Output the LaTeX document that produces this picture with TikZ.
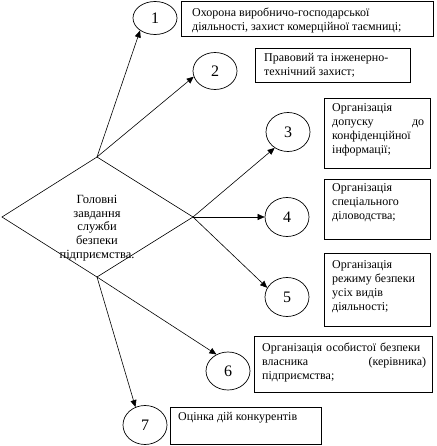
\documentclass[tikz,border=0pt]{standalone}
\usepackage{fontspec}
\setmainfont{Liberation Serif}
\usetikzlibrary{arrows.meta,shapes.geometric,calc}
\begin{document}
\begin{tikzpicture}[x=1pt,y=-1pt,
 num/.style={draw,ellipse,line width=0.7pt,minimum width=44,minimum height=37,inner sep=0pt,font=\fontsize{16}{16}\selectfont},
 box/.style={draw,line width=0.7pt,anchor=north west,inner sep=0pt},
 txt/.style={anchor=north west,inner sep=0pt,font=\fontsize{12}{14}\selectfont,align=left},
 arr/.style={line width=0.6pt,-{Triangle[length=7pt,width=6pt]}}]
\useasboundingbox (0,0) rectangle (436,446);
% diamond
\coordinate (dl) at (2,217);
\coordinate (dt) at (97,157);
\coordinate (dr) at (193,217);
\coordinate (db) at (97,277);
\draw[line width=0.6pt] (dl) -- (dt) -- (dr) -- (db) -- cycle;
\node[font=\fontsize{12.5}{13.8}\selectfont,align=center,inner sep=0pt] (dtext) at (97,228) {Головні\\завдання\\служби\\безпеки\\підприємства.};
% ellipses
\node[num,minimum height=33] (e1) at (155,18) {1};
\node[num] (e2) at (215,71) {2};
\node[num,minimum height=39] (e3) at (288,132) {3};
\node[num,minimum height=39] (e4) at (287,217) {4};
\node[num,minimum height=39] (e5) at (287,297) {5};
\node[num,minimum height=38] (e6) at (228,371) {6};
\node[num,minimum height=39] (e7) at (145,425) {7};
% boxes
\node[box,minimum width=252,minimum height=35] (b1) at (181,1) {};
\node[box,minimum width=155,minimum height=34] (b2) at (255,48) {};
\node[box,minimum width=106,minimum height=70] (b3) at (324,98) {};
\node[box,minimum width=106,minimum height=60] (b4) at (324,179) {};
\node[box,minimum width=106,minimum height=73] (b5) at (324,253) {};
\node[box,minimum width=178,minimum height=56] (b6) at (254,336) {};
\node[box,minimum width=151,minimum height=37] (b7) at (170,407) {};
% texts
\node[txt] (t1) at (192,8) {Охорона виробничо-господарської\\діяльності, захист комерційної таємниці;};
\node[txt] (t2) at (264,53) {Правовий та інженерно-\\технічний захист;};
\node[txt,text width=92] (t3) at (332,103) {Організація\\допуску \hfill до\\конфіденційної\\інформації;};
\node[txt] (t4) at (332,183) {Організація\\спеціального\\діловодства;};
\node[txt] (t5) at (332,260) {Організація\\режиму безпеки\\усіх видів\\діяльності;};
\node[txt,text width=164] (t6) at (262,343) {Організація особистої безпеки\\власника \hfill (керівника)\\підприємства;};
\node[txt] (t7) at (178,412) {Оцінка дій конкурентів};
% arrows
\draw[arr] (dt) -- (e1.220);
\draw[arr] (dt) -- (e2.195);
\draw[arr] (dr) -- (e3.230);
\draw[arr] (dr) -- (e4.west);
\draw[arr] (dr) -- (e5.155);
\draw[arr] (db) -- (e6.125);
\draw[arr] (db) -- (e7.118);
\end{tikzpicture}
\end{document}
